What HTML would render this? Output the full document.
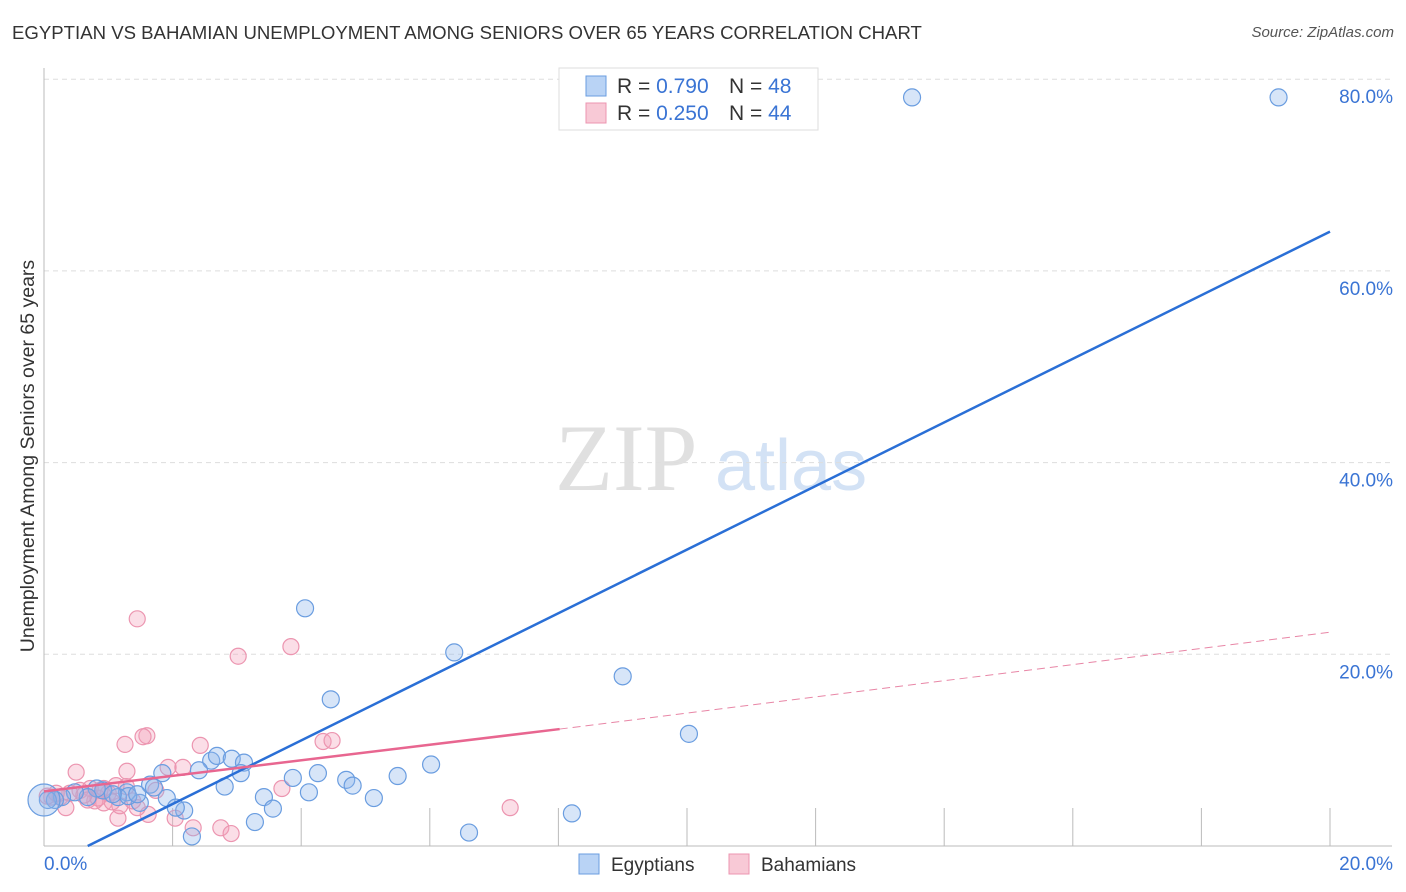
<!DOCTYPE html>
<html><head><meta charset="utf-8"><style>
body{margin:0;background:#fff;font-family:"Liberation Sans",sans-serif}
#wrap{position:relative;width:1406px;height:892px}
.t{position:absolute;white-space:nowrap}
</style></head><body>
<div id="wrap">
<div class="t" style="left:12px;top:22px;font-size:18.6px;color:#333">EGYPTIAN VS BAHAMIAN UNEMPLOYMENT AMONG SENIORS OVER 65 YEARS CORRELATION CHART</div>
<div class="t" style="right:12px;top:24px;font-size:15px;color:#555;font-style:italic">Source: ZipAtlas.com</div>
<svg id="svg" width="1406" height="892" style="position:absolute;left:0;top:0"></svg>
</div>
<script>
const yTicks=[20,40,60,80];
const yTickLabels=["20.0%","40.0%","60.0%","80.0%"];
const egX=[13.5,19.2,4.06,6.38,9.0,4.46,10.03,6.02,5.5,4.26,3.87,4.7,4.8,2.81,4.12,3.42,5.13,3.56,3.28,8.21,6.61,2.3,1.84,2.6,2.69,2.92,3.11,3.06,2.41,1.65,1.91,2.18,2.05,1.49,1.29,1.15,0.92,0.82,0.68,0.48,0.28,0.17,0.06,0.0,1.31,1.07,1.45,1.71];
const egY=[78.1,78.1,24.8,20.2,17.7,15.3,11.7,8.5,7.3,7.6,7.1,6.9,6.3,6.2,5.6,5.1,5.0,3.9,2.5,3.4,1.4,1.0,7.6,8.9,9.4,9.1,8.7,7.6,7.9,6.4,5.0,3.7,4.0,4.5,5.6,5.1,5.8,6.0,5.1,5.6,5.1,4.8,4.8,4.8,5.2,5.4,5.4,6.1];
const bhX=[1.45,3.84,3.02,1.6,1.54,1.26,2.43,4.34,4.48,1.93,2.16,1.29,0.5,3.7,7.25,2.04,1.62,1.15,2.32,2.75,2.91,1.45,1.38,0.93,0.79,1.0,0.72,0.56,0.4,0.25,0.12,0.05,0.34,1.18,1.06,0.68,0.84,0.93,1.28,1.74,1.12,0.87,0.62,0.19];
const bhY=[23.7,20.8,19.8,11.5,11.4,10.6,10.5,10.9,11.0,8.2,8.2,7.8,7.7,6.0,4.0,2.9,3.3,2.9,1.9,1.9,1.3,4.0,4.7,4.5,4.7,5.5,6.0,5.8,5.5,5.1,5.1,5.2,4.0,4.2,4.6,4.8,5.0,6.0,6.2,5.8,6.3,5.8,5.3,5.5];
const egLine=[0.68,0,20,64.1];
const bhSolid=[0,5.7,8.02,12.2];
const bhDash=[8.02,12.2,20,22.3];
const X0=44,X1=1330,Y0=846,YS=191.7/20;
const sx=v=>X0+(X1-X0)*v/20, sy=v=>Y0-v*YS;
const svg=document.getElementById('svg');const NS='http://www.w3.org/2000/svg';
function mk(tag,a,name){const e=document.createElementNS(NS,tag);for(const k in a)e.setAttribute(k,a[k]);


svg.appendChild(e);return e;}
let w=mk('text',{x:555,y:490,'font-size':95,'font-family':'Liberation Serif, serif',fill:'#e0e0e0'},'watermark-zip');w.textContent='ZIP';
w=mk('text',{x:715,y:490,'font-size':72,'font-family':'Liberation Sans, sans-serif',fill:'#d3e2f5'},'watermark-atlas');w.textContent='atlas';
yTicks.forEach((t,i)=>{mk('line',{x1:X0,x2:1392,y1:sy(t),y2:sy(t),stroke:'#ddd','stroke-dasharray':'5,4'},'gridline');
const tx=mk('text',{x:1393,y:sy(t)+24,'text-anchor':'end','font-size':19,fill:'#3a74d4','font-family':'Liberation Sans, sans-serif'},'y-tick-label');tx.textContent=yTickLabels[i];});
mk('line',{x1:X0,x2:X0,y1:68,y2:Y0,stroke:'#bbb'},'y-axis');
mk('line',{x1:X0,x2:1392,y1:Y0,y2:Y0,stroke:'#bbb'},'x-axis');
for(let i=1;i<=10;i++){const x=X0+(X1-X0)*i/10;mk('line',{x1:x,x2:x,y1:808,y2:Y0,stroke:'#bbb'},'x-tick');}
let t=mk('text',{x:44,y:870,'font-size':19,fill:'#3a74d4','font-family':'Liberation Sans, sans-serif'},'x-tick-label');t.textContent='0.0%';
t=mk('text',{x:1393,y:870,'text-anchor':'end','font-size':19,fill:'#3a74d4','font-family':'Liberation Sans, sans-serif'},'x-tick-label');t.textContent='20.0%';
t=mk('text',{x:34,y:456,'text-anchor':'middle','font-size':19.5,fill:'#333',transform:'rotate(-90 34 456)','font-family':'Liberation Sans, sans-serif'},'y-axis-title');t.textContent='Unemployment Among Seniors over 65 years';
bhX.forEach((v,i)=>mk('circle',{cx:sx(v),cy:sy(bhY[i]),r:8,fill:'rgba(244,160,185,0.35)',stroke:'#ec95b0','stroke-width':1.2},'bahamian-point'));
egX.forEach((v,i)=>mk('circle',{cx:sx(v),cy:sy(egY[i]),r:(v===0?16:8.5),fill:'rgba(140,180,235,0.35)',stroke:'#6a9de0','stroke-width':1.2},'egyptian-point'));
mk('line',{x1:sx(egLine[0]),y1:sy(egLine[1]),x2:sx(egLine[2]),y2:sy(egLine[3]),stroke:'#2a6fd6','stroke-width':2.5},'egyptian-trendline');
mk('line',{x1:sx(bhSolid[0]),y1:sy(bhSolid[1]),x2:sx(bhSolid[2]),y2:sy(bhSolid[3]),stroke:'#e86690','stroke-width':2.5},'bahamian-trendline');
mk('line',{x1:sx(bhDash[0]),y1:sy(bhDash[1]),x2:sx(bhDash[2]),y2:sy(bhDash[3]),stroke:'#e886a6','stroke-width':1,'stroke-dasharray':'8,5'},'bahamian-trendline-extension');
mk('rect',{x:559,y:68,width:259,height:62,fill:'#fff',stroke:'#ddd'},'legend-box');
[['#b9d3f5','#6a9de0','0.790','48',86],['#f8c9d6','#ec95b0','0.250','44',113]].forEach(r=>{
mk('rect',{x:586,y:r[4]-10,width:20,height:20,fill:r[0],stroke:r[1]},'legend-swatch');
let a=mk('text',{x:617,y:r[4]+7,'font-size':21,fill:'#333','font-family':'Liberation Sans, sans-serif'},'legend-r');a.innerHTML='R = <tspan fill="#3a74d4">'+r[2]+'</tspan>';
a=mk('text',{x:729,y:r[4]+7,'font-size':21,fill:'#333','font-family':'Liberation Sans, sans-serif'},'legend-n');a.innerHTML='N = <tspan fill="#3a74d4">'+r[3]+'</tspan>';});
[['#b9d3f5','#6a9de0','Egyptians',579],['#f8c9d6','#ec95b0','Bahamians',729]].forEach(r=>{
mk('rect',{x:r[3],y:854,width:20,height:20,fill:r[0],stroke:r[1]},'bottom-legend-swatch');
const a=mk('text',{x:r[3]+32,y:871,'font-size':19,fill:'#333','font-family':'Liberation Sans, sans-serif'},'bottom-legend-label');a.textContent=r[2];});
</script>
</body></html>
